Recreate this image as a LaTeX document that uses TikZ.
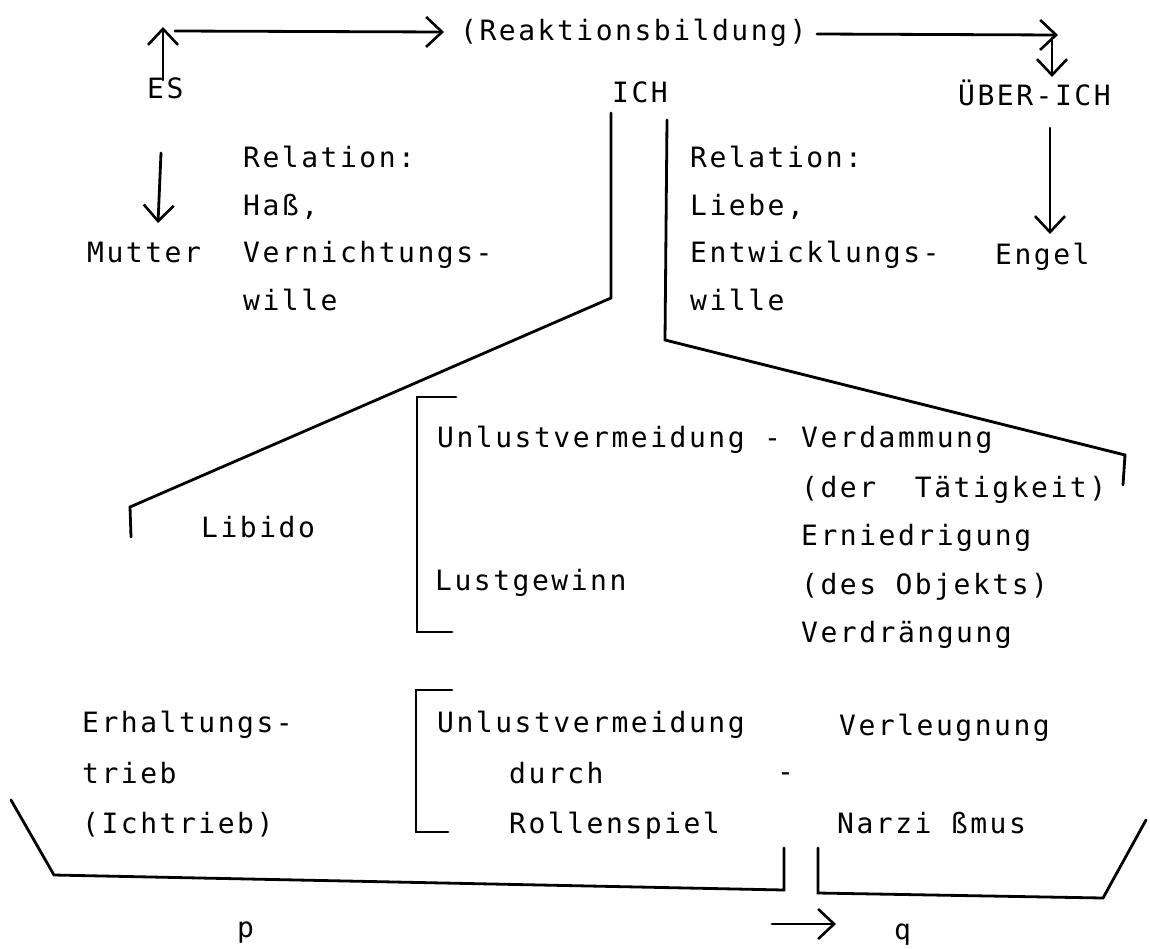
\documentclass[tikz,border=0pt]{standalone}
\usepackage{fontspec}
\setmainfont{DejaVu Sans Mono}
\newfontfamily\tw[LetterSpace=9]{DejaVu Sans Mono}
\usetikzlibrary{arrows.meta}
\begin{document}
\begin{tikzpicture}[x=1pt,y=-1pt,
  txt/.style={anchor=base west,inner sep=0pt,font=\tw\fontsize{28}{32}\selectfont},
  ln/.style={line width=2.8pt,line join=miter,line cap=round},
  arr/.style={ln,-{Straight Barb[length=16pt,width=30pt,line width=2.6pt]}}]
\useasboundingbox[fill=white] (0,0) rectangle (1150,948);
% texts
\node[txt] (reak) at (460,40) {(Reaktionsbildung)};
\node[txt] (es) at (147,98) {ES};
\node[txt] (ich) at (612,102) {ICH};
\node[txt] (ueber) at (958,105) {ÜBER-ICH};
\node[txt] (rel1) at (243,167) {Relation:};
\node[txt] (hass) at (243,215) {Haß,};
\node[txt] (vern) at (243,262) {Vernichtungs-};
\node[txt] (wil1) at (243,310) {wille};
\node[txt] (mutter) at (87,262) {Mutter};
\node[txt] (rel2) at (690,167) {Relation:};
\node[txt] (liebe) at (690,215) {Liebe,};
\node[txt] (entw) at (690,262) {Entwicklungs-};
\node[txt] (wil2) at (690,310) {wille};
\node[txt] (engel) at (995,264) {Engel};
\node[txt] (unl1) at (437,447) {Unlustvermeidung -};
\node[txt] (verd) at (801,447) {Verdammung};
\node[txt] (taet) at (801,497) {(der~~Tätigkeit)};
\node[txt] (libido) at (201,537) {Libido};
\node[txt] (ernie) at (801,545) {Erniedrigung};
\node[txt] (lust) at (435,590) {Lustgewinn};
\node[txt] (obj) at (801,594) {(des Objekts)};
\node[txt] (verdr) at (801,642) {Verdrängung};
\node[txt] (erh) at (82,732) {Erhaltungs-};
\node[txt] (trieb) at (82,783) {trieb};
\node[txt] (ichtr) at (82,833) {(Ichtrieb)};
\node[txt] (unl2) at (437,732) {Unlustvermeidung};
\node[txt] (durch) at (509,783) {durch};
\node[txt] (rolle) at (509,833) {Rollenspiel};
\node[txt] (dash) at (777,781) {-};
\node[txt] (verl) at (839,735) {Verleugnung};
\node[txt] (narz) at (837,833) {Narzi ßmus};
\node[txt] (p) at (237,937) {p};
\node[txt] (q) at (894,939) {q};
% arrows
\coordinate (a1s) at (163,80); \coordinate (a1e) at (163,27);
\draw[arr] (a1s) -- (a1e);
\coordinate (a2s) at (175,31); \coordinate (a2e) at (444,32);
\draw[arr] (a2s) -- (a2e);
\coordinate (a3s) at (817,34); \coordinate (a3e) at (1058,35);
\draw[arr] (a3s) -- (a3e);
\coordinate (a4s) at (1052,38); \coordinate (a4e) at (1052,77);
\draw[arr] (a4s) -- (a4e);
\coordinate (a5s) at (161,153); \coordinate (a5e) at (158,223);
\draw[arr] (a5s) -- (a5e);
\coordinate (a6s) at (1050,128); \coordinate (a6e) at (1050,234);
\draw[arr] (a6s) -- (a6e);
\coordinate (a7s) at (772,924); \coordinate (a7e) at (836,924);
\draw[arr] (a7s) -- (a7e);
% ICH brackets
\coordinate (l1) at (611,113); \coordinate (l2) at (611,298);
\coordinate (l3) at (130,507); \coordinate (l4) at (131,537);
\draw[ln] (l1) -- (l2) -- (l3) -- (l4);
\coordinate (r1) at (667,120); \coordinate (r2) at (665,340);
\coordinate (r3) at (1125,455); \coordinate (r4) at (1123,485);
\draw[ln] (r1) -- (r2) -- (r3) -- (r4);
% group brackets
\coordinate (b1) at (456,397); \coordinate (b2) at (417,397);
\coordinate (b3) at (417,632); \coordinate (b4) at (452,632);
\draw[ln] (b1) -- (b2) -- (b3) -- (b4);
\coordinate (c1) at (452,690); \coordinate (c2) at (416,690);
\coordinate (c3) at (416,832); \coordinate (c4) at (448,832);
\draw[ln] (c1) -- (c2) -- (c3) -- (c4);
% bottom brackets
\coordinate (d1) at (11,800); \coordinate (d2) at (54,875);
\coordinate (d3) at (784,890); \coordinate (d4) at (784,848);
\draw[ln] (d1) -- (d2) -- (d3) -- (d4);
\coordinate (e1) at (818,848); \coordinate (e2) at (818,893);
\coordinate (e3) at (1103,898); \coordinate (e4) at (1146,820);
\draw[ln] (e1) -- (e2) -- (e3) -- (e4);
\end{tikzpicture}
\end{document}
